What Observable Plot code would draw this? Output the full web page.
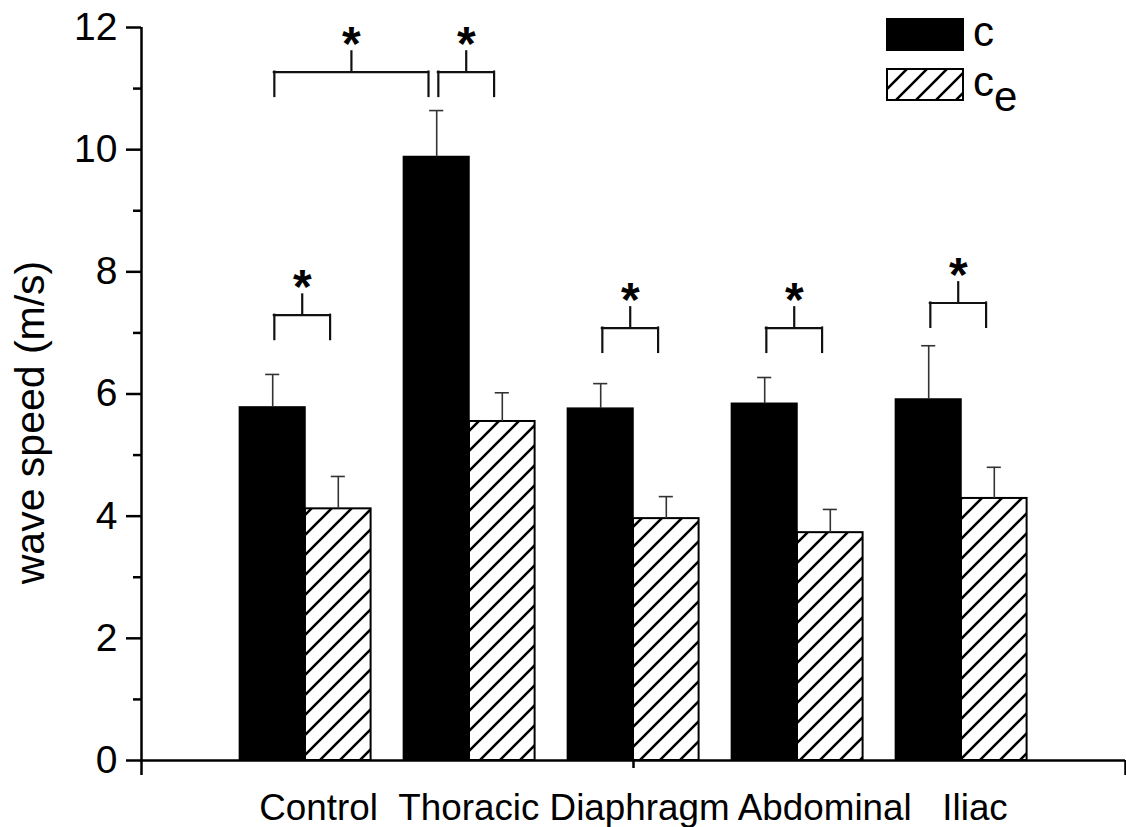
<!DOCTYPE html>
<html>
<head>
<meta charset="utf-8">
<script src="https://cdn.jsdelivr.net/npm/d3@7"></script>
<script src="https://cdn.jsdelivr.net/npm/@observablehq/plot@0.6"></script>
<style>
  html, body { margin: 0; padding: 0; background: #fff; }
  #chart svg { display: block; }
</style>
</head>
<body>
<div id="chart"></div>
<script>
// Pulse wave speed at each measurement site: mean and upward SD
const sites = ["Control", "Thoracic", "Diaphragm", "Abdominal", "Iliac"];
const cMean = [5.78, 9.88, 5.76, 5.84, 5.91];
const cSD = [0.54, 0.76, 0.41, 0.43, 0.88];
const ceMean = [4.12, 5.55, 3.96, 3.73, 4.29];
const ceSD = [0.53, 0.47, 0.36, 0.38, 0.51];
const yTicks = [0, 2, 4, 6, 8, 10, 12];
const yMinorTicks = [1, 3, 5, 7, 9, 11];
const xCaption = "Control\u00a0\u00a0Thoracic Diaphragm Abdominal\u00a0\u00a0\u00a0Iliac";
const yTitle = "wave speed (m/s)";

// legend entries: base text and subscript
const seriesKeys = ["c", "ce"];
const seriesLabels = [["c", ""], ["c", "e"]];

// significant differences (*): compared bars and bracket height in m/s
const comparisons = [
  {a: ["Control", "c"], b: ["Control", "ce"], level: 7.29},
  {a: ["Control", "c"], b: ["Thoracic", "c"], level: 11.27},
  {a: ["Thoracic", "c"], b: ["Thoracic", "ce"], level: 11.27},
  {a: ["Diaphragm", "c"], b: ["Diaphragm", "ce"], level: 7.08},
  {a: ["Abdominal", "c"], b: ["Abdominal", "ce"], level: 7.08},
  {a: ["Iliac", "c"], b: ["Iliac", "ce"], level: 7.49}
];

// geometry on a linear x axis: site i sits at i + 1, each bar 0.4 wide
const barW = 0.4;
const center = (site, s) => sites.indexOf(site) + 1 + (s === "c" ? -barW / 2 : barW / 2);

const rows = sites.flatMap((site, i) => [
  {site, series: "c", pos: i + 1, mean: cMean[i], sd: cSD[i]},
  {site, series: "ce", pos: i + 1, mean: ceMean[i], sd: ceSD[i]}
]);
rows.forEach(d => {
  d.x1 = d.series === "c" ? d.pos - barW : d.pos;
  d.x2 = d.series === "c" ? d.pos : d.pos + barW;
  d.cx = (d.x1 + d.x2) / 2;
  d.top = d.mean + d.sd;
});

const brackets = comparisons.map(c => {
  const x1 = center(...c.a) + 0.01;
  const x2 = center(...c.b) - 0.05;
  return {x1, x2, xm: (x1 + x2) / 2, level: c.level};
});
const legH = 0.4, stemH = 0.35;
const legs = brackets.flatMap(b => [{x: b.x1, level: b.level}, {x: b.x2, level: b.level}]);

const font = "'Liberation Sans', Arial, Helvetica, sans-serif";
const ink = "#000";
const axisW = 2.5;

const svg = Plot.plot({
  width: 1126,
  height: 827,
  marginLeft: 141,
  marginRight: 1,
  marginTop: 27,
  marginBottom: 67,
  style: {fontFamily: font, background: "#fff", color: ink, overflow: "visible"},
  x: {domain: [0, 6], label: null},
  y: {domain: [0, 12], label: null},
  marks: [
    // bars
    Plot.rectY(rows.filter(d => d.series === "c"), {x1: "x1", x2: "x2", y: "mean", fill: "#000", stroke: "#000", strokeWidth: 1.5}),
    Plot.rectY(rows.filter(d => d.series === "ce"), {x1: "x1", x2: "x2", y: "mean", fill: "url(#hatch)", stroke: "#000", strokeWidth: 2}),
    // error bars (upper half only)
    Plot.ruleX(rows, {x: "cx", y1: "mean", y2: "top", stroke: "#333", strokeWidth: 1.6}),
    Plot.ruleY(rows, {y: "top", x1: d => d.cx - 0.043, x2: d => d.cx + 0.043, stroke: "#333", strokeWidth: 1.6}),
    // significance brackets
    Plot.ruleY(brackets, {y: "level", x1: "x1", x2: "x2", stroke: "#111", strokeWidth: 2.2, strokeLinecap: "square"}),
    Plot.ruleX(legs, {x: "x", y1: d => d.level - legH, y2: "level", stroke: "#111", strokeWidth: 2.2, strokeLinecap: "square"}),
    Plot.ruleX(brackets, {x: "xm", y1: "level", y2: d => d.level + stemH, stroke: "#111", strokeWidth: 2.2}),
    Plot.text(brackets, {x: "xm", y: d => d.level + stemH, text: () => "*", fontSize: 48, fontWeight: "bold", lineAnchor: "bottom", dy: 9, fill: "#000"}),
    // axes
    Plot.ruleX([0], {y1: 0, y2: 12, stroke: ink, strokeWidth: axisW}),
    Plot.ruleY([0], {x1: 0, x2: 6, stroke: ink, strokeWidth: axisW}),
    Plot.axisY({ticks: yTicks, tickSize: 15, tickPadding: 9, fontSize: 39, strokeWidth: axisW, tickFormat: d => String(d)}),
    Plot.axisY({ticks: yMinorTicks, tickSize: 8, strokeWidth: axisW, tickFormat: () => ""}),
    Plot.axisX({ticks: [0, 6], tickSize: 15, strokeWidth: axisW, tickFormat: () => ""}),
    Plot.axisX({ticks: [3], tickSize: 8, strokeWidth: axisW, tickFormat: () => ""}),
    // category caption and axis title
    Plot.text([xCaption], {x: 3, frameAnchor: "bottom", dy: 59, lineAnchor: "bottom", textAnchor: "middle", fontSize: 36.8, text: d => d, fill: ink}),
    Plot.text([yTitle], {frameAnchor: "left", dx: -111, dy: 28.5, rotate: -90, textAnchor: "middle", lineAnchor: "middle", fontSize: 41, text: d => d, fill: ink})
  ]
});

// hatch fill for the c_e bars
const root = d3.select(svg);
const pat = root.insert("defs", ":first-child")
  .append("pattern")
  .attr("id", "hatch")
  .attr("patternUnits", "userSpaceOnUse")
  .attr("width", 20)
  .attr("height", 20);
pat.append("rect").attr("width", 20).attr("height", 20).attr("fill", "#fff");
pat.append("path")
  .attr("d", "M-5,5L5,-5M0,20L20,0M15,25L25,15")
  .attr("stroke", "#000")
  .attr("stroke-width", 2.6);

// legend (top right)
const legend = root.append("g")
  .attr("transform", "translate(887,19)")
  .attr("font-family", font)
  .attr("font-size", 42)
  .attr("text-anchor", "start")
  .attr("fill", ink);
seriesKeys.forEach((key, i) => {
  const g = legend.append("g").attr("transform", `translate(0,${i * 50})`);
  g.append("rect")
    .attr("width", 76)
    .attr("height", 31)
    .attr("fill", key === "c" ? "#000" : "url(#hatch)")
    .attr("stroke", "#000")
    .attr("stroke-width", 2);
  const t = g.append("text").attr("x", 86).attr("y", 27).attr("text-anchor", "start");
  t.append("tspan").text(seriesLabels[i][0]);
  if (seriesLabels[i][1]) t.append("tspan").attr("dy", 15).text(seriesLabels[i][1]);
});

document.getElementById("chart").appendChild(svg);
</script>
</body>
</html>
